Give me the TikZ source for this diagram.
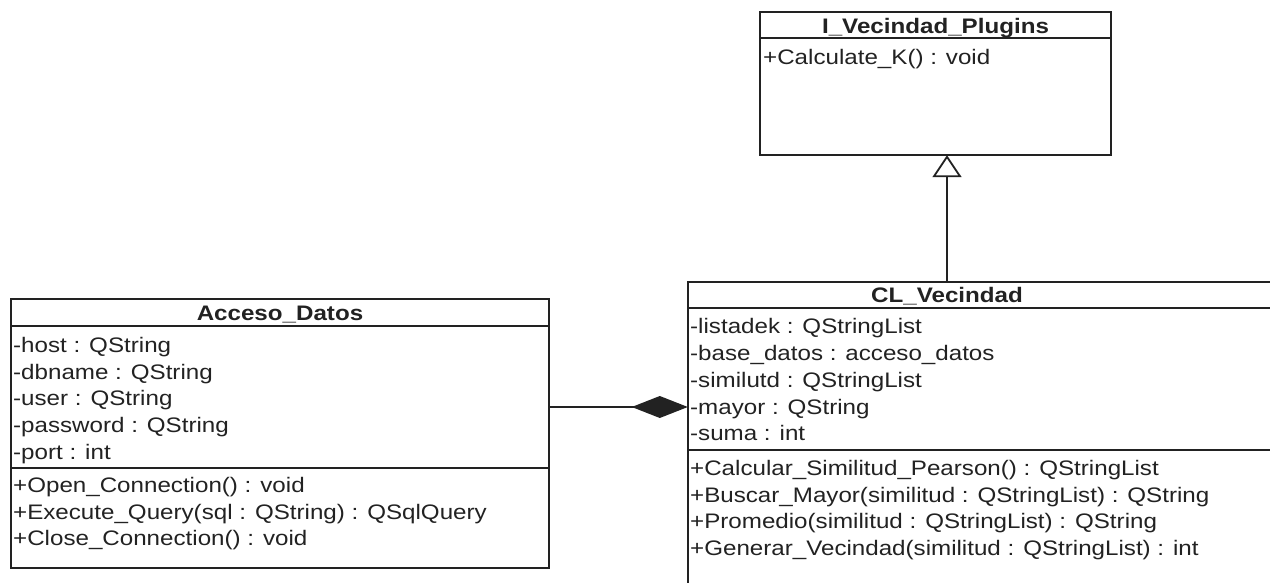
\documentclass[tikz,border=0pt]{standalone}
\usepackage{fontspec}
\setmainfont{Liberation Sans}[FakeStretch=1.15]
\usetikzlibrary{arrows.meta}
\definecolor{ink}{HTML}{222222}
\tikzset{
  classbox/.style={draw=ink, line width=1.7pt, fill=white, inner sep=0pt},
  sepline/.style={draw=ink, line width=1.7pt},
  title/.style={font=\fontsize{21}{25}\selectfont\bfseries, text=ink, anchor=mid, inner sep=0pt, yshift=-5pt},
  member/.style={font=\fontsize{21}{25}\selectfont, text=ink, anchor=mid west, inner sep=0pt, yshift=-5pt},
  composition/.style={draw=ink, line width=1.5pt, -{Diamond[length=56pt,width=22pt,fill=ink]}},
  realization/.style={draw=ink, line width=1.8pt, -{Triangle[open,length=22pt,width=29pt,fill=white,line width=1.8pt]}}
}
\begin{document}
\begin{tikzpicture}[x=1pt,y=-1pt]
\useasboundingbox[fill=white] (0,0) rectangle (1270,583);
\clip (0,0) rectangle (1270,583);

% interface I_Vecindad_Plugins
\draw[classbox] (760,12) rectangle (1111,155);
\node[draw=none, minimum width=351pt, minimum height=143pt, inner sep=0pt] (ivp) at (935.5,83.5) {};
\draw[sepline] (760,38) -- (1111,38);
\node[title] (ivpT) at (935.5,26) {I\_Vecindad\_Plugins};
\node[member] (ivpM1) at (763,57) {+Calculate\_K() : void};

% class Acceso_Datos
\draw[classbox] (11,299) rectangle (549,568);
\node[draw=none, minimum width=538pt, minimum height=269pt, inner sep=0pt] (acc) at (280,433.5) {};
\draw[sepline] (11,326) -- (549,326);
\draw[sepline] (11,468) -- (549,468);
\node[title] (accT) at (280,313) {Acceso\_Datos};
\node[member] (accA1) at (13,345) {-host : QString};
\node[member] (accA2) at (13,372) {-dbname : QString};
\node[member] (accA3) at (13,398) {-user : QString};
\node[member] (accA4) at (13,425) {-password : QString};
\node[member] (accA5) at (13,452) {-port : int};
\node[member] (accM1) at (13,485) {+Open\_Connection() : void};
\node[member] (accM2) at (13,512) {+Execute\_Query(sql : QString) : QSqlQuery};
\node[member] (accM3) at (13,538) {+Close\_Connection() : void};

% class CL_Vecindad
\draw[classbox] (688,282) rectangle (1300,620);
\node[draw=none, minimum width=612pt, minimum height=338pt, inner sep=0pt] (cl) at (994,451) {};
\draw[sepline] (688,308) -- (1300,308);
\draw[sepline] (688,450) -- (1300,450);
\node[title] (clT) at (947,295) {CL\_Vecindad};
\node[member] (clA1) at (690,326) {-listadek : QStringList};
\node[member] (clA2) at (690,353) {-base\_datos : acceso\_datos};
\node[member] (clA3) at (690,380) {-similutd : QStringList};
\node[member] (clA4) at (690,407) {-mayor : QString};
\node[member] (clA5) at (690,433) {-suma : int};
\node[member] (clM1) at (690,468) {+Calcular\_Similitud\_Pearson() : QStringList};
\node[member] (clM2) at (690,495) {+Buscar\_Mayor(similitud : QStringList) : QString};
\node[member] (clM3) at (690,521) {+Promedio(similitud : QStringList) : QString};
\node[member] (clM4) at (690,548) {+Generar\_Vecindad(similitud : QStringList) : int};

% relations
\coordinate (genx) at (947,0);
\coordinate (compy) at (0,407);
\draw[composition] (acc.east |- compy) -- (cl.west |- compy);
\draw[realization] (cl.north -| genx) -- (ivp.south -| genx);
\end{tikzpicture}
\end{document}
